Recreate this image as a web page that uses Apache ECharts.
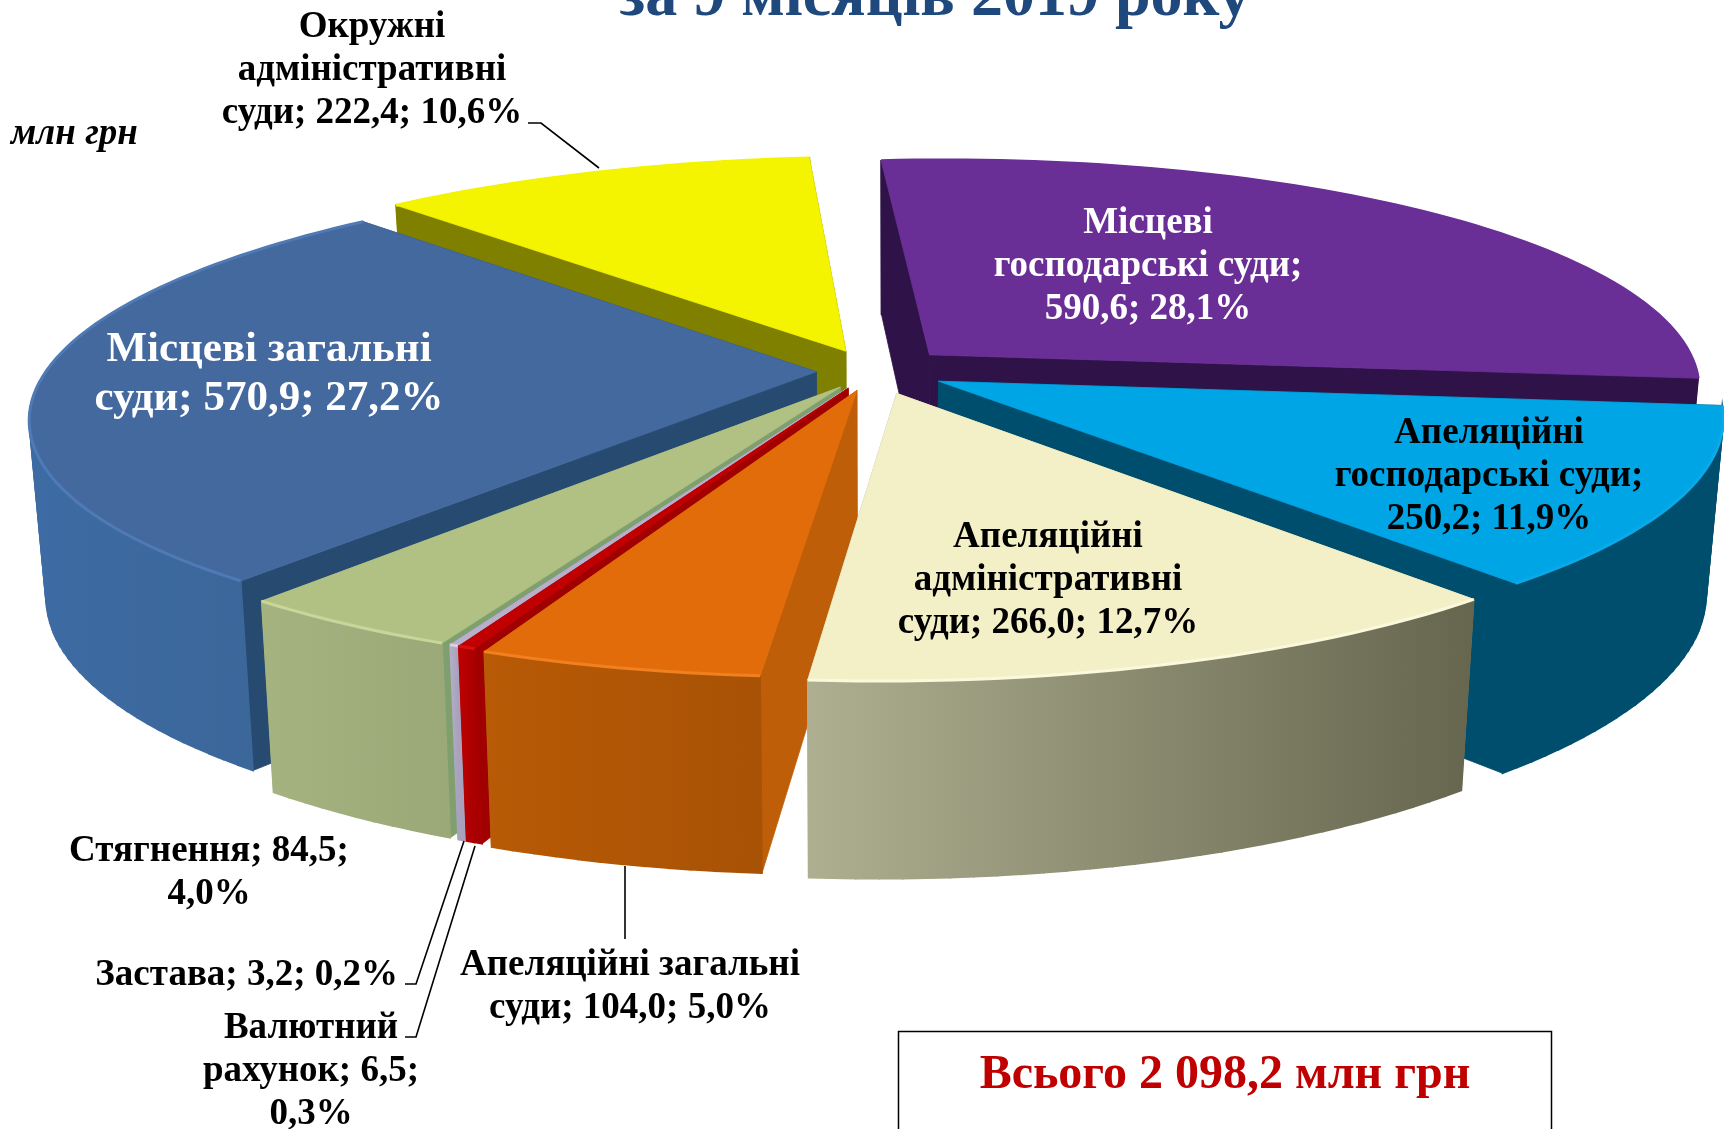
<!DOCTYPE html>
<html><head><meta charset="utf-8">
<style>html,body{margin:0;padding:0;background:#fff}#c{width:1724px;height:1129px}</style>
<script src="https://cdn.jsdelivr.net/npm/echarts@6/dist/echarts.min.js"></script>
</head><body><div id="c"></div>
<script>
const categories = ['Місцеві господарські суди','Апеляційні господарські суди','Апеляційні адміністративні суди','Апеляційні загальні суди','Валютний рахунок','Застава','Стягнення','Місцеві загальні суди','Окружні адміністративні суди'];
const values = [590.6,250.2,266.0,104.0,6.5,3.2,84.5,570.9,222.4];
const pulls = [0.10,0.095,0.10,0.085,0.08,0.08,0.08,0.075,0.095];
const drawOrder = [8,0,7,1,6,5,4,3,2];
const topColors = ['#6a2f96','#00a5e6','#f3f0c8','#e26c0a','#c00000','#b8afcc','#b1c184','#44699f','#f4f400'];
const rimColors = ['#6a2f96','#0aa9e8','#fbf9dc','#f08020','#d81010','#d8d0e4','#c8d69c','#4f7ab5','#f4f400'];
const wallColors = ['#2e1248','#004e6e','#b0b094','#bf5e08','#a00000','#9a92ac','#7f9f6f','#274a70','#7f7f00'];
const outerFrom = ['#2e1248','#004e6e','#aeae90','#b85a06','#c00000','#b4aec8','#a5b381','#3d6ba3','#7f7f00'];
const outerTo = ['#2e1248','#004e6e','#66664f','#a85205','#a80000','#a8a2bc','#9ba978','#3a6496','#7f7f00'];
const sliceLabels = [
 {t:'Місцеві\nгосподарські суди;\n590,6; 28,1%',x:1148,y:266,c:'#fff',s:37,lh:43},
 {t:'Апеляційні\nгосподарські суди;\n250,2; 11,9%',x:1489,y:476,c:'#000',s:37,lh:43},
 {t:'Апеляційні\nадміністративні\nсуди; 266,0; 12,7%',x:1048,y:580,c:'#000',s:37,lh:43},
 {t:'Апеляційні загальні\nсуди; 104,0; 5,0%',x:630,y:987,c:'#000',s:37,lh:43},
 {t:'Валютний\nрахунок; 6,5;\n0,3%',x:311,y:1071,c:'#000',s:37,lh:43},
 {t:'Застава; 3,2; 0,2%',x:398,y:975,c:'#000',s:37,lh:43,a:'right'},
 {t:'Стягнення; 84,5;\n4,0%',x:209,y:873,c:'#000',s:37,lh:43},
 {t:'Місцеві загальні\nсуди; 570,9; 27,2%',x:269,y:374,c:'#fff',s:43,lh:49},
 {t:'Окружні\nадміністративні\nсуди; 222,4; 10,6%',x:372,y:70,c:'#000',s:37,lh:43}
];
const titleText = 'за 9 місяців 2019 року';
const unitText = 'млн грн';
const totalText = 'Всього 2 098,2 млн грн';

const CX=874, CY=371, K=770, KT=232, P=0.165, H=172, HN=0.7, QX=0.02, SH=-22;
const START=-5.5, STEP=1.5;
const total = values.reduce((a,b)=>a+b,0);
let acc = START;
const spans = values.map(v=>{const a=acc; acc+=v/total*360; return [a,acc];});
const rad = d=>d*Math.PI/180;
function proj(x,y,z){
  const f=1/(1-P*y);
  return [CX+(K*x*f)*(1-QX*z)+SH*y, CY+KT*y*f+H*z*Math.pow(f,HN)];
}

function renderItem(params, api){
  const i = params.dataIndex;
  const [a0,a1] = spans[i];
  const mid = rad((a0+a1)/2), p = pulls[i];
  const ox = p*Math.sin(mid), oy = -p*Math.cos(mid);
  const rim = d=>[ox+Math.sin(rad(d)), oy-Math.cos(rad(d))];
  const n = Math.max(2,Math.ceil((a1-a0)/STEP));
  const ds = []; for(let j=0;j<=n;j++) ds.push(a0+(a1-a0)*j/n);
  const topArc = ds.map(d=>{const r=rim(d);return proj(r[0],r[1],0);});
  const botArc = ds.map(d=>{const r=rim(d);return proj(r[0],r[1],1);});
  const c0 = proj(ox,oy,0), c1 = proj(ox,oy,1);
  const z = drawOrder.indexOf(i)*10;
  const poly=(pts,fill,dz,lw)=>({type:'polygon',z2:z+dz,shape:{points:pts},style:{fill,stroke:fill,lineWidth:lw||0.8}});
  const xs = topArc.map(q=>q[0]);
  const minX=Math.min(...xs), maxX=Math.max(...xs);
  const grad = {type:'linear',x:minX,y:0,x2:maxX,y2:0,global:true,colorStops:[{offset:0,color:outerFrom[i]},{offset:1,color:outerTo[i]}]};
  const strips = [];
  for(let j=0;j<n;j++) strips.push(poly([topArc[j],topArc[j+1],botArc[j+1],botArc[j]],grad,2,1.6));
  return {type:'group',children:[
    poly([c0,topArc[0],botArc[0],c1],wallColors[i],0),
    poly([c0,topArc[n],botArc[n],c1],wallColors[i],1)
  ].concat(strips,[
    poly([c0].concat(topArc),topColors[i],3),
    {type:'polyline',z2:z+4,shape:{points:topArc},style:{fill:null,stroke:rimColors[i],lineWidth:3}}
  ])};
}

const textEl=(l)=>({type:'text',z:5,style:{text:l.t,x:l.x,y:l.y,fill:l.c,font:'bold '+l.s+'px "Liberation Serif"',lineHeight:l.lh,textAlign:l.a||'center',textVerticalAlign:'middle'}});
const line=(pts)=>({type:'polyline',z:5,shape:{points:pts},style:{fill:null,stroke:'#000',lineWidth:1.6}});

const chart = echarts.init(document.getElementById('c'),null,{renderer:'canvas'});
chart.setOption({
  animation:false,
  backgroundColor:'#fff',
  series:[{type:'custom',coordinateSystem:'none',renderItem,silent:true,clip:false,
    data:values.map((v,i)=>({value:[v,i],name:categories[i]}))}],
  graphic:{elements:[
    {type:'text',z:5,style:{text:titleText,x:935,y:-2,fill:'#1f497d',font:'bold 64px "Liberation Serif"',textAlign:'center',textVerticalAlign:'middle',shadowColor:'rgba(0,0,0,0.45)',shadowBlur:4,shadowOffsetX:2,shadowOffsetY:3}},
    {type:'text',z:5,style:{text:unitText,x:11,y:134,fill:'#000',font:'italic bold 37px "Liberation Serif"',textAlign:'left',textVerticalAlign:'middle'}},
    {type:'rect',z:4,shape:{x:898.5,y:1031.5,width:653,height:140},style:{fill:'#fff',stroke:'#000',lineWidth:1.5}},
    {type:'text',z:5,style:{text:totalText,x:1225,y:1076,fill:'#c00000',font:'bold 48px "Liberation Serif"',textAlign:'center',textVerticalAlign:'middle'}},
    line([[528,123],[541,123],[599,168]]),
    line([[625,866],[625,939]]),
    line([[405,984],[416,984],[464,841]]),
    line([[405,1037],[416,1037],[475,846]])
  ].concat(sliceLabels.map(textEl))}
});
</script></body></html>
